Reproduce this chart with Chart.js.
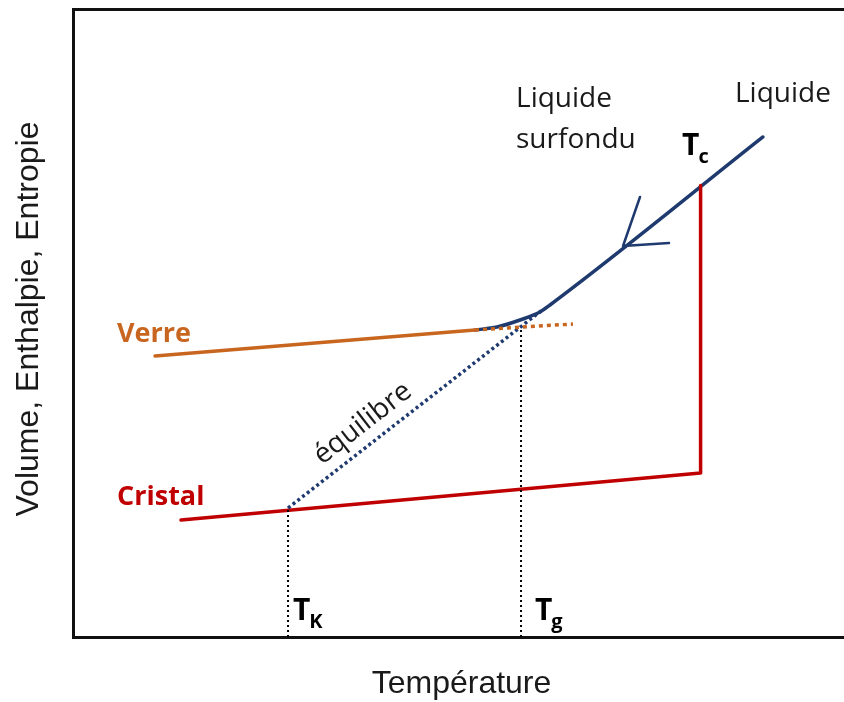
<!DOCTYPE html>
<html>
<head>
<meta charset="utf-8">
<script src="https://cdn.jsdelivr.net/npm/chart.js@4/dist/chart.umd.min.js"></script>
<style>
    html, body { margin: 0; padding: 0; background: #fff; }
    #wrap { width: 844px; height: 702px; }
</style>
</head>
<body>
<div id="wrap"><canvas id="diagram" width="844" height="702"></canvas></div>
<script>
// DATA (axes run 0..100 in both directions, no units)
let verreX = [10.64, 52.14];
let verreY = [44.75, 48.89];

let verreDotX = [52.14, 64.85];
let verreDotY = [48.89, 49.84];

let liquideX = [52.14, 54.99, 57.98, 60.57, 61.87, 89.49];
let liquideY = [48.89, 49.36, 50.48, 51.75, 52.87, 79.62];

let arrowX = [73.54, 71.34, 77.30];
let arrowY = [70.06, 62.26, 62.74];

let equilibreX = [27.89, 60.70];
let equilibreY = [20.54, 51.91];

let cristalX = [14.01, 81.4, 81.4];
let cristalY = [18.63, 26.11, 71.9];

let tkX = [27.89, 27.89];
let tkY = [0, 20.54];

let tgX = [58.11, 58.11];
let tgY = [0, 49.2];

const NAVY = "#1f3a6e";
const ORANGE = "#c8651f";
const RED = "#c00000";

function pts(xs, ys) {
    return xs.map((x, i) => ({x: x, y: ys[i]}));
}

function line(xs, ys, color, width, dash) {
    return {
        data: pts(xs, ys),
        borderColor: color,
        borderWidth: width,
        borderDash: dash || [],
        borderCapStyle: dash ? "butt" : "round",
        borderJoinStyle: "round",
        showLine: true,
        pointRadius: 0,
        fill: false
    };
}

let liquide = line(liquideX, liquideY, NAVY, 3.5);
liquide.cubicInterpolationMode = "monotone";

// TEXT LABELS
const textPlugin = {
    id: "texts",
    afterDraw(chart) {
        let ctx = chart.ctx;
        let sx = chart.scales.x, sy = chart.scales.y;
        let px = v => sx.getPixelForValue(v);
        let py = v => sy.getPixelForValue(v);
        let area = chart.chartArea;
        const calibri = "'Open Sans', 'Noto Sans', sans-serif";

        ctx.save();
        ctx.textBaseline = "alphabetic";
        ctx.textAlign = "left";

        ctx.fillStyle = ORANGE;
        ctx.font = "bold 27px " + calibri;
        ctx.fillText("Verre", px(5.71), py(46.97));

        ctx.fillStyle = RED;
        ctx.fillText("Cristal", px(5.71), py(21.02));

        ctx.fillStyle = "#1a1a1a";
        ctx.font = "28px " + calibri;
        ctx.fillText("Liquide", px(85.86), py(85.19));
        ctx.fillText("Liquide", px(57.46), py(84.39));
        ctx.fillText("surfondu", px(57.46), py(77.87));

        // T with subscript
        function tSub(sub, x, y) {
            ctx.fillStyle = "#000";
            ctx.font = "bold 30px " + calibri;
            let w = ctx.measureText("T").width;
            ctx.fillText("T", px(x), py(y));
            ctx.font = "bold 20px " + calibri;
            ctx.fillText(sub, px(x) + w - 1, py(y) + 8);
        }
        tSub("c", 78.99, 76.75);
        tSub("K", 28.53, 2.71);
        tSub("g", 59.92, 2.71);

        // rotated label along the equilibrium line
        let ang = Math.atan2(py(equilibreY[1]) - py(equilibreY[0]), px(equilibreX[1]) - px(equilibreX[0]));
        ctx.translate(px(37.6), py(34.0));
        ctx.rotate(ang);
        ctx.fillStyle = "#1a1a1a";
        ctx.font = "28px " + calibri;
        ctx.textAlign = "center";
        ctx.textBaseline = "middle";
        ctx.fillText("équilibre", 0, 0);
        ctx.restore();

        // axis titles
        ctx.save();
        ctx.fillStyle = "#1a1a1a";
        ctx.font = "32px 'Liberation Sans', Arial, sans-serif";
        ctx.textAlign = "center";
        ctx.textBaseline = "alphabetic";
        ctx.fillText("Température", (area.left + area.right) / 2 + 3, 693);
        ctx.translate(38, 319);
        ctx.rotate(-Math.PI / 2);
        ctx.fillText("Volume, Enthalpie, Entropie", 0, 0);
        ctx.restore();
    }
};

const hiddenAxis = (pos) => ({
    type: "linear",
    position: pos,
    min: 0,
    max: 100,
    ticks: {display: false},
    grid: {display: false, drawTicks: false, tickLength: 0},
    border: {display: true, color: "#111", width: 3}
});

new Chart(document.getElementById("diagram"), {
    type: "scatter",
    data: {
        datasets: [
            line(tkX, tkY, "#000", 2, [2, 3]),
            line(tgX, tgY, "#000", 2, [2, 3]),
            line(verreDotX, verreDotY, ORANGE, 3.5, [4, 4]),
            line(equilibreX, equilibreY, NAVY, 3.5, [3, 3]),
            line(verreX, verreY, ORANGE, 3.5),
            line(cristalX, cristalY, RED, 3.5),
            liquide,
            line(arrowX, arrowY, NAVY, 2.5)
        ]
    },
    options: {
        responsive: false,
        animation: false,
        devicePixelRatio: 1,
        layout: {padding: {left: 73, top: 9, right: 0, bottom: 65}},
        plugins: {legend: {display: false}, tooltip: {enabled: false}},
        scales: {
            x: hiddenAxis("bottom"),
            x2: hiddenAxis("top"),
            y: hiddenAxis("left")
        }
    },
    plugins: [textPlugin]
});
</script>
</body>
</html>
